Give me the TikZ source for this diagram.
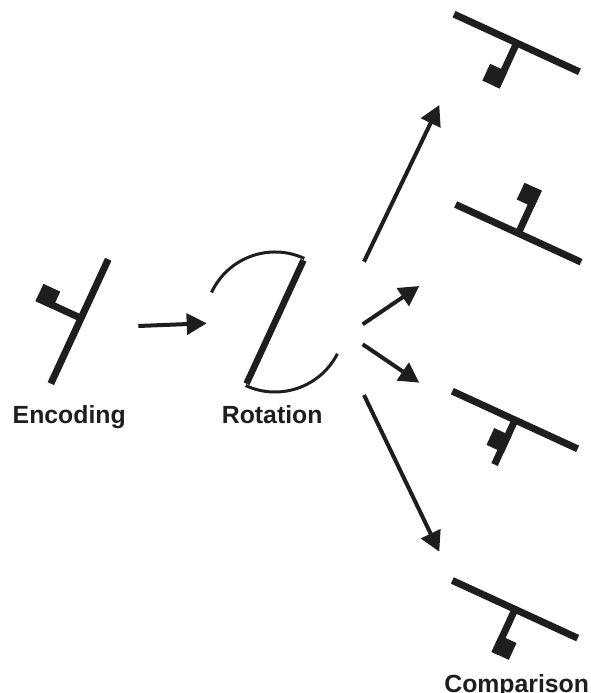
\documentclass[tikz,border=0pt]{standalone}
\usepackage{fontspec}
\setmainfont{Liberation Sans}
\usetikzlibrary{arrows.meta}
\definecolor{ink}{RGB}{30,30,30}
\begin{document}
\begin{tikzpicture}[x=1pt,y=1pt,
  lbl/.style={anchor=base,inner sep=0pt,text=ink,font=\bfseries\fontsize{24.8}{30}\selectfont},
  arr/.style={draw=ink,line width=4pt,-{Triangle[length=20pt,width=21pt]}},
  arcline/.style={draw=ink,line width=3pt},
  every path/.style={},
]
\useasboundingbox (0,0) rectangle (591,693);
% ---------- Encoding glyph ----------
\begin{scope}[shift={(81,374.7)},rotate=65.2]
  \fill[ink] (-72,-3.5) rectangle (65,3.5);
  \fill[ink] (-3.5,0) rectangle (3.5,48.5);
  \fill[ink] (-3.5,30) rectangle (15.5,48.5);
\end{scope}
\node[lbl] (enc) at (69.2,269.7) {Encoding};
% ---------- Rotation ----------
\coordinate (rc) at (275,371);
\draw[ink,line width=6.5pt] ([shift={(65.2:68)}]rc) -- ([shift={(245.2:68)}]rc);
\draw[arcline] ([shift={(65.2:70)}]rc) arc[start angle=65.2,end angle=155,radius=70];
\draw[arcline] ([shift={(245.2:70)}]rc) arc[start angle=245.2,end angle=333,radius=70];
\node[lbl] (rot) at (272.2,269.7) {Rotation};
% ---------- Comparison glyphs ----------
\begin{scope}[shift={(516.7,650)},rotate=-24.7]
  \fill[ink] (-69,-3.5) rectangle (69,3.5);
  \fill[ink] (-3.5,0) rectangle (3.5,-48.5);
  \fill[ink] (-15.5,-30) rectangle (3.5,-48.5);
\end{scope}
\begin{scope}[shift={(518.3,459.7)},rotate=-24.7]
  \fill[ink] (-69,-3.5) rectangle (69,3.5);
  \fill[ink] (-3.5,0) rectangle (3.5,48.5);
  \fill[ink] (-15.5,30) rectangle (3.5,48.5);
\end{scope}
\begin{scope}[shift={(515,273)},rotate=-24.7]
  \fill[ink] (-69,-3.5) rectangle (69,3.5);
  \fill[ink] (-3.5,0) rectangle (3.5,-49);
  \fill[ink] (-15.5,-16) rectangle (3.5,-34.5);
\end{scope}
\begin{scope}[shift={(515,83.7)},rotate=-24.7]
  \fill[ink] (-69,-3.5) rectangle (69,3.5);
  \fill[ink] (-3.5,0) rectangle (3.5,-48.5);
  \fill[ink] (-3.5,-30) rectangle (15.5,-48.5);
\end{scope}
\node[lbl] (cmp) at (516.7,1) {Comparison};
% ---------- Arrows ----------
\coordinate (a0s) at (138.3,367);
\coordinate (a0e) at (206.7,369.7);
\coordinate (a1s) at (364,431.3);
\coordinate (a1e) at (439.3,588);
\coordinate (a2s) at (362.7,368.7);
\coordinate (a2e) at (419.3,407);
\coordinate (a3s) at (362.7,348.7);
\coordinate (a3e) at (419.3,310.3);
\coordinate (a4s) at (364,298);
\coordinate (a4e) at (439.3,141.3);
\draw[arr] (a0s) -- (a0e);
\draw[arr] (a1s) -- (a1e);
\draw[arr] (a2s) -- (a2e);
\draw[arr] (a3s) -- (a3e);
\draw[arr] (a4s) -- (a4e);
\end{tikzpicture}
\end{document}
